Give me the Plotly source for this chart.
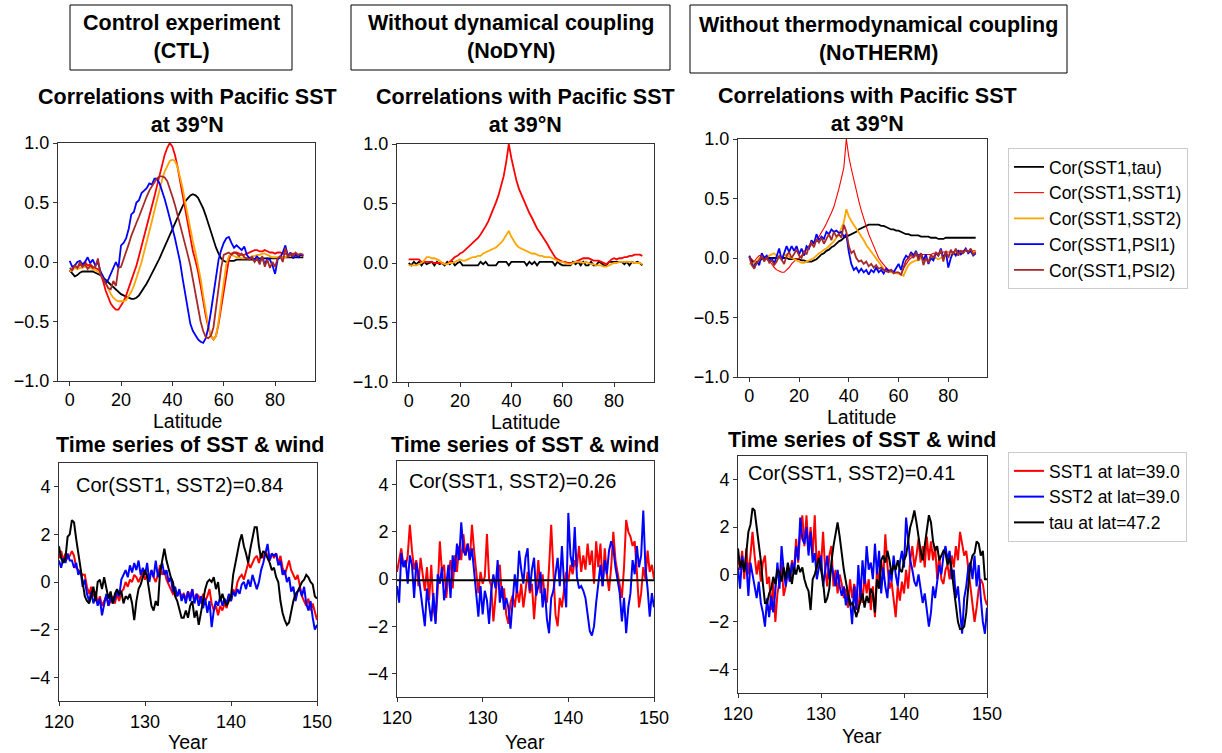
import plotly.graph_objects as go

W, H = 1222, 753
FONT = "Liberation Sans, Arial, Helvetica, sans-serif"

# ---- correlation profiles (latitude 0..91) ----
lat = list(range(92))

ctl_tau = [-0.07,-0.10,-0.12,-0.11,-0.09,-0.08,-0.08,-0.08,-0.08,-0.08,
           -0.09,-0.10,-0.11,-0.13,-0.15,-0.17,-0.19,-0.21,-0.23,-0.25,
           -0.27,-0.28,-0.29,-0.30,-0.31,-0.31,-0.30,-0.28,-0.25,-0.22,
           -0.18,-0.14,-0.10,-0.06,-0.02,0.03,0.08,0.13,0.18,0.23,
           0.28,0.33,0.38,0.43,0.47,0.51,0.54,0.56,0.57,0.56,
           0.54,0.50,0.45,0.39,0.32,0.25,0.18,0.12,0.07,0.03,
           0.01,0.00,0.01,0.01,0.01,0.02,0.02,0.02,0.02,0.02,
           0.02,0.02,0.02,0.03,0.03,0.03,0.03,0.03,0.03,0.03,
           0.03,0.03,0.04,0.04,0.04,0.04,0.04,0.04,0.04,0.04,
           0.04,0.04]
ctl_sst1 = [-0.08,-0.06,-0.03,-0.05,-0.02,-0.04,0.00,-0.03,-0.02,-0.04,
            -0.05,-0.06,-0.10,-0.16,-0.24,-0.30,-0.35,-0.38,-0.40,-0.40,
            -0.37,-0.33,-0.28,-0.22,-0.16,-0.10,-0.03,0.05,0.13,0.21,
            0.29,0.38,0.46,0.55,0.64,0.73,0.82,0.90,0.96,1.00,
            0.97,0.90,0.80,0.68,0.55,0.44,0.32,0.20,0.09,0.01,
            -0.08,-0.20,-0.33,-0.45,-0.55,-0.62,-0.65,-0.62,-0.52,-0.38,
            -0.22,-0.08,0.02,0.07,0.08,0.08,0.07,0.06,0.06,0.07,
            0.08,0.09,0.10,0.10,0.09,0.09,0.10,0.09,0.08,0.08,
            0.07,0.08,0.08,0.07,0.07,0.06,0.06,0.07,0.07,0.06,
            0.06,0.06]
ctl_sst2 = [-0.08,-0.07,-0.05,-0.06,-0.05,-0.05,-0.04,-0.05,-0.05,-0.06,
            -0.07,-0.08,-0.10,-0.13,-0.17,-0.22,-0.27,-0.30,-0.32,-0.33,
            -0.33,-0.33,-0.32,-0.29,-0.25,-0.20,-0.14,-0.07,0.00,0.08,
            0.16,0.25,0.34,0.43,0.52,0.61,0.69,0.76,0.81,0.85,
            0.86,0.85,0.80,0.72,0.62,0.50,0.38,0.27,0.17,0.08,
            -0.02,-0.14,-0.28,-0.42,-0.54,-0.62,-0.65,-0.62,-0.50,-0.33,
            -0.15,-0.02,0.05,0.06,0.05,0.04,0.04,0.03,0.03,0.03,
            0.04,0.05,0.05,0.06,0.06,0.07,0.07,0.06,0.05,0.04,
            0.04,0.04,0.04,0.04,0.04,0.05,0.05,0.05,0.05,0.05,
            0.05,0.05]
ctl_psi1 = [0.01,-0.04,-0.03,0.00,0.01,-0.02,0.00,0.04,-0.01,0.02,
            -0.03,0.00,-0.08,-0.12,-0.18,-0.15,-0.10,-0.05,0.00,-0.05,
            0.14,0.16,0.20,0.28,0.40,0.42,0.50,0.52,0.58,0.60,
            0.62,0.66,0.65,0.70,0.70,0.66,0.60,0.53,0.45,0.37,
            0.30,0.20,0.10,0.00,-0.14,-0.28,-0.42,-0.52,-0.58,-0.62,
            -0.65,-0.67,-0.68,-0.64,-0.55,-0.42,-0.28,-0.12,0.02,0.10,
            0.16,0.20,0.21,0.16,0.12,0.14,0.12,0.10,0.13,0.06,
            0.03,0.04,0.02,0.05,0.00,0.04,-0.02,0.03,0.02,-0.03,
            -0.10,0.02,0.04,0.08,0.14,0.05,0.08,0.03,0.06,0.04,
            0.06,0.05]
ctl_psi2 = [-0.05,-0.07,-0.03,-0.05,0.00,-0.04,-0.02,-0.06,-0.03,-0.05,
            -0.04,0.03,-0.10,-0.14,-0.18,-0.22,-0.23,-0.16,-0.20,-0.05,
            -0.04,0.02,0.08,0.15,0.22,0.28,0.33,0.38,0.44,0.50,
            0.55,0.60,0.64,0.67,0.70,0.72,0.72,0.71,0.68,0.62,
            0.55,0.48,0.40,0.32,0.24,0.15,0.06,-0.03,-0.15,-0.28,
            -0.40,-0.50,-0.58,-0.63,-0.64,-0.62,-0.55,-0.40,-0.22,-0.05,
            0.06,0.07,0.08,0.06,0.08,0.07,0.05,0.07,0.04,0.03,
            0.02,0.04,0.00,0.03,-0.02,0.05,-0.04,0.02,-0.05,0.00,
            -0.04,0.03,0.05,0.00,0.12,0.04,0.07,0.05,0.08,0.06,
            0.07,0.06]

nodyn_tau = [0.00,-0.02,0.01,-0.01,0.01,-0.02,0.01,-0.01,0.00,0.01,
             -0.02,0.01,-0.01,0.00,-0.02,0.01,-0.01,0.01,-0.02,0.00,
             0.01,-0.02,-0.02,-0.02,-0.02,-0.02,-0.02,-0.02,0.01,-0.01,
             0.01,-0.02,-0.02,-0.02,-0.02,0.01,0.01,0.01,0.01,-0.02,
             0.01,0.01,0.01,0.01,0.01,0.01,-0.02,0.01,-0.01,0.01,
             -0.02,0.01,0.01,0.01,0.01,0.01,0.01,-0.02,0.01,-0.01,
             -0.02,-0.02,-0.02,-0.02,0.01,-0.01,0.01,-0.02,0.01,-0.02,
             -0.02,0.01,-0.02,-0.02,0.01,0.00,-0.02,-0.02,0.01,0.01,
             0.01,0.01,0.01,0.01,-0.01,0.01,-0.02,0.01,0.00,0.01,
             0.00,-0.02]
nodyn_sst1 = [0.03,0.03,0.03,0.03,0.03,0.01,0.01,0.01,0.01,0.01,
              0.00,0.00,0.00,0.00,-0.01,-0.01,0.01,0.03,0.05,0.06,
              0.08,0.09,0.11,0.13,0.15,0.17,0.19,0.21,0.24,0.27,
              0.31,0.35,0.40,0.45,0.51,0.57,0.64,0.73,0.85,1.00,
              0.88,0.77,0.69,0.62,0.57,0.51,0.46,0.42,0.38,0.33,
              0.29,0.26,0.23,0.20,0.16,0.12,0.08,0.05,0.03,0.02,
              0.01,0.01,0.00,0.00,0.00,0.01,0.02,0.03,0.04,0.04,
              0.04,0.03,0.02,0.02,0.02,0.01,0.00,-0.01,0.01,0.03,
              0.04,0.03,0.04,0.04,0.05,0.05,0.06,0.06,0.07,0.07,
              0.07,0.06]
nodyn_sst2 = [-0.02,-0.02,-0.02,-0.02,-0.01,0.00,0.02,0.05,0.05,0.04,
              0.04,0.03,0.02,0.00,-0.01,-0.01,0.00,0.00,0.01,0.02,
              0.03,0.02,0.02,0.03,0.04,0.05,0.05,0.06,0.06,0.08,
              0.09,0.10,0.11,0.12,0.13,0.15,0.17,0.20,0.23,0.27,
              0.22,0.18,0.15,0.13,0.12,0.11,0.10,0.09,0.08,0.08,
              0.07,0.06,0.06,0.05,0.05,0.05,0.04,0.03,0.02,0.01,
              0.01,0.00,-0.01,-0.01,0.00,0.01,0.01,0.01,0.00,0.01,
              0.00,-0.01,-0.01,-0.02,-0.02,-0.02,-0.03,-0.03,-0.02,-0.01,
              0.00,0.00,0.01,0.01,0.01,0.01,0.01,0.01,0.00,0.00,
              0.00,-0.01]

notherm_tau = [0.01,-0.02,-0.05,-0.04,-0.02,-0.01,0.00,0.00,0.00,0.00,
               0.00,0.00,0.00,0.00,0.00,0.00,-0.01,-0.01,-0.01,-0.01,
               -0.01,-0.02,-0.02,-0.03,-0.03,-0.03,-0.02,-0.01,0.01,0.03,
               0.04,0.06,0.07,0.09,0.10,0.12,0.14,0.15,0.17,0.18,
               0.19,0.20,0.21,0.22,0.24,0.25,0.26,0.27,0.28,0.28,
               0.28,0.28,0.28,0.27,0.27,0.26,0.25,0.24,0.24,0.23,
               0.23,0.22,0.21,0.20,0.20,0.19,0.19,0.19,0.19,0.18,
               0.18,0.18,0.18,0.17,0.17,0.17,0.16,0.16,0.16,0.17,
               0.17,0.17,0.17,0.17,0.17,0.17,0.17,0.17,0.17,0.17,
               0.17,0.17]
notherm_sst1 = [0.01,-0.01,-0.03,0.00,0.02,0.02,0.00,-0.01,-0.03,-0.05,
                -0.08,-0.10,-0.11,-0.12,-0.12,-0.10,-0.08,-0.05,-0.03,-0.01,
                0.00,0.02,0.05,0.07,0.09,0.11,0.13,0.15,0.18,0.21,
                0.25,0.29,0.33,0.38,0.43,0.50,0.58,0.67,0.76,1.00,
                0.85,0.75,0.65,0.56,0.48,0.40,0.33,0.26,0.20,0.15,
                0.10,0.05,0.00,-0.03,-0.06,-0.08,-0.10,-0.11,-0.12,-0.12,
                -0.13,-0.14,-0.09,-0.05,-0.02,0.00,0.01,0.02,0.03,0.03,
                0.03,0.03,0.03,0.03,0.04,0.04,0.04,0.04,0.05,0.05,
                0.05,0.05,0.05,0.06,0.06,0.06,0.06,0.06,0.06,0.06,
                0.06,0.06]
notherm_sst2 = [-0.05,-0.05,-0.04,-0.03,0.00,0.02,0.01,0.00,0.02,0.03,
                0.04,0.02,0.00,0.01,0.02,0.03,0.01,0.00,-0.01,-0.02,
                -0.03,-0.04,-0.04,-0.03,-0.02,-0.01,0.00,0.02,0.04,0.05,
                0.07,0.08,0.10,0.12,0.14,0.17,0.20,0.25,0.30,0.41,
                0.35,0.31,0.28,0.25,0.22,0.18,0.15,0.11,0.08,0.05,
                0.02,-0.01,-0.04,-0.07,-0.09,-0.10,-0.11,-0.12,-0.12,-0.13,
                -0.13,-0.14,-0.15,-0.10,-0.06,-0.04,-0.03,-0.02,-0.02,0.00,
                0.00,-0.01,-0.02,-0.01,0.00,0.00,-0.01,0.00,0.01,0.02,
                0.02,0.03,0.03,0.04,0.04,0.05,0.05,0.06,0.06,0.06,
                0.05,0.05]
notherm_psi1 = [0.02,-0.05,-0.08,-0.03,-0.06,0.04,0.00,0.02,-0.03,0.00,
                -0.05,0.02,0.08,-0.02,0.05,0.10,0.05,0.10,0.06,0.10,
                0.03,0.08,0.02,0.10,0.08,0.15,0.12,0.20,0.15,0.18,
                0.16,0.22,0.20,0.24,0.22,0.23,0.21,0.22,0.18,0.20,
                0.05,-0.05,-0.10,-0.08,-0.12,-0.09,-0.12,-0.10,-0.14,-0.10,
                -0.12,-0.08,-0.12,-0.10,-0.13,-0.09,-0.11,-0.10,-0.12,-0.08,
                -0.05,-0.10,-0.02,0.02,0.00,0.05,0.02,0.06,0.00,0.04,
                -0.02,0.03,-0.05,0.00,-0.02,0.04,0.02,0.08,0.00,0.05,
                -0.08,0.00,0.05,0.02,0.06,0.03,0.05,0.08,0.04,0.06,
                0.02,0.04]
notherm_psi2 = [0.01,-0.06,-0.09,-0.04,-0.02,0.02,-0.03,0.01,-0.04,-0.02,
                -0.06,-0.03,0.02,-0.02,-0.05,0.02,0.05,0.00,0.04,0.07,
                0.02,0.00,0.06,0.03,0.10,0.13,0.09,0.16,0.13,0.17,
                0.12,0.16,0.20,0.15,0.22,0.18,0.20,0.17,0.28,0.22,
                0.10,0.04,0.06,0.00,-0.03,-0.02,-0.05,-0.03,-0.07,-0.05,
                -0.08,-0.06,-0.09,-0.08,-0.10,-0.11,-0.12,-0.10,-0.13,-0.12,
                -0.12,-0.14,-0.08,-0.02,0.00,0.03,0.00,0.05,-0.02,0.04,
                -0.06,0.00,-0.04,0.03,0.00,0.05,0.02,0.07,-0.03,0.06,
                0.00,0.07,0.03,0.08,0.02,0.06,0.04,0.07,0.05,0.08,
                0.03,0.05]

# ---- time series (years 120..150, quarter-year samples) ----
year = [120 + 0.25 * i for i in range(121)]

ctl_ts_sst1 = [1.0,1.3,0.9,1.2,1.0,1.1,1.3,1.1,
               0.6,0.5,0.4,0.3,0.3,-0.2,-0.5,-0.2,
               -0.6,-0.4,-0.9,-0.6,-1.0,-0.8,-0.6,-1.0,
               -0.8,-0.6,-0.9,-0.5,-0.8,-0.4,-0.3,0.0,
               -0.2,0.1,0.0,0.3,0.2,0.0,0.2,0.4,
               0.1,0.3,0.2,0.5,0.2,0.0,0.3,0.7,
               0.3,0.5,0.1,-0.1,-0.3,-0.5,-0.4,-0.6,
               -0.4,-0.6,-0.5,-0.7,-0.4,-0.6,-0.3,-0.8,
               -0.5,-0.6,-0.9,-0.5,-0.8,-0.6,-0.3,-0.9,
               -1.2,-1.0,-1.4,-1.0,-1.2,-0.9,-1.1,-0.6,
               -0.8,-0.3,-0.5,0.0,0.2,0.3,0.1,0.5,
               0.8,0.6,0.8,1.0,1.1,0.8,1.2,1.0,
               1.3,1.1,0.9,1.2,1.0,1.2,0.8,1.1,
               0.6,0.3,0.6,0.9,0.5,0.3,0.1,0.3,
               -0.2,-0.6,-0.8,-1.0,-0.7,-1.2,-0.9,-1.3,
               -1.6]
ctl_ts_sst2 = [0.9,0.6,1.0,0.8,1.2,0.9,0.9,0.6,
               0.8,0.3,0.5,-0.2,0.1,-0.5,-0.8,-0.4,
               -0.9,-0.6,-1.0,-0.7,-1.4,-0.9,-0.5,-1.0,
               -0.6,-0.9,-0.7,-0.4,-0.6,0.1,0.3,0.5,
               0.2,0.7,0.4,0.8,0.5,0.9,0.3,0.6,
               0.3,0.8,0.0,0.5,0.2,0.9,0.2,0.5,
               0.8,0.3,0.5,0.0,0.2,-0.4,-0.2,-0.6,
               -0.3,-0.8,-0.5,-0.9,-0.4,-0.8,-0.3,-0.9,
               -0.5,-1.0,-0.6,-1.1,-0.7,-1.3,-0.8,-1.9,
               -1.2,-0.8,-1.0,-0.6,-1.0,-0.7,-0.9,-0.5,
               -0.8,-0.4,-0.6,-0.3,-0.5,-0.1,0.0,-0.3,
               0.1,-0.2,0.3,0.0,-0.3,0.0,0.5,0.8,
               1.2,1.6,0.9,1.2,1.1,1.2,0.7,0.9,
               0.3,0.5,0.0,0.2,-0.4,-0.2,-0.8,-0.4,
               -0.3,-0.6,-0.2,-0.9,-1.2,-0.8,-1.5,-2.0,
               -1.8]
ctl_ts_tau = [1.5,1.0,0.8,1.0,1.9,2.0,2.6,2.5,
              1.8,1.2,0.8,0.2,-0.6,-0.8,-0.9,-0.6,
              -0.2,-0.8,0.0,0.1,-0.3,0.2,-0.2,-0.7,
              -0.4,-0.9,-0.5,-0.3,-0.5,-0.4,-0.9,-0.6,
              -0.7,-0.5,-0.9,-1.6,-0.8,-0.3,-0.1,0.2,
              0.5,0.2,-0.5,-1.0,-1.2,-0.8,-1.0,0.4,
              0.9,1.4,0.9,0.5,0.2,0.0,-0.6,-0.8,
              -1.2,-1.5,-1.5,-1.2,-1.5,-1.0,-0.8,-1.5,
              -1.2,-1.8,-1.3,-0.8,-0.3,0.0,0.1,0.0,
              0.2,-0.3,0.0,-0.8,-0.5,-0.8,-1.0,-0.8,
              -0.6,0.3,0.8,1.2,1.7,2.0,1.5,1.2,
              0.8,1.4,1.8,2.3,2.3,1.5,1.0,1.3,
              1.2,1.0,0.8,0.5,0.6,0.2,0.0,-0.8,
              -1.3,-1.6,-1.8,-1.7,-1.2,-0.8,-0.5,-0.4,
              -0.2,0.0,0.1,0.3,0.2,0.0,-0.1,-0.6,
              -0.7]

nodyn_ts_sst1 = [0.3,0.8,1.3,0.6,0.5,1.0,2.3,1.2,
                 0.4,0.8,-0.3,0.9,0.3,-0.5,0.5,-0.9,
                 0.6,-1.2,-1.8,-0.5,1.6,0.3,0.6,-0.8,
                 0.2,0.8,-0.4,1.0,0.3,1.4,0.8,1.9,
                 1.0,1.5,0.8,2.3,1.2,0.3,-0.6,0.3,
                 -0.2,0.1,1.9,0.0,-0.3,-1.8,-0.6,0.3,
                 0.6,-0.8,-0.4,-1.5,-1.9,-1.0,-0.7,-1.2,
                 -0.4,-1.0,-0.2,-1.2,-0.5,0.3,-0.6,-0.2,
                 -1.7,-0.4,0.8,-0.6,0.2,-0.8,-1.0,0.5,
                 2.3,0.4,-1.5,-2.0,-0.8,-1.2,-0.4,0.3,
                 -0.1,0.6,0.2,0.8,0.5,1.4,0.3,1.0,
                 0.4,1.5,0.6,1.2,-0.2,1.6,0.5,1.5,
                 -0.3,1.3,0.2,-0.5,0.5,2.0,0.8,0.2,
                 -0.3,-0.8,0.5,2.5,2.0,1.8,1.4,1.6,
                 0.3,-1.2,-0.6,0.5,0.0,1.2,0.3,0.6,
                 0.0]
nodyn_ts_sst2 = [-0.3,-1.0,1.1,0.5,0.8,-0.2,1.0,0.6,
                 -0.8,0.7,0.2,-0.5,-1.4,-2.0,-0.4,-1.2,
                 -1.8,-0.6,-1.9,0.2,-0.2,0.5,-0.9,-0.3,
                 0.6,-0.8,1.0,0.3,1.5,0.8,2.4,1.2,
                 1.0,1.5,0.8,1.3,0.4,-0.5,-1.6,-0.3,
                 -1.5,-0.5,-0.9,-1.9,-0.5,0.2,-0.4,0.8,
                 -1.0,-0.3,-1.3,-0.8,-1.2,-2.1,-0.8,0.2,
                 -0.6,1.2,0.4,-0.2,0.9,1.3,-0.5,0.4,
                 0.9,-0.7,-0.3,0.3,-1.2,-0.4,-1.7,-2.3,
                 -0.8,-0.5,0.2,0.9,-0.3,1.4,-0.2,-1.2,
                 2.8,1.0,0.5,2.2,0.1,-0.4,-0.3,-0.5,
                 -0.8,-1.5,-2.2,-2.4,-2.0,-1.0,-0.2,0.6,
                 -0.3,0.8,0.2,1.2,1.6,1.3,0.5,0.0,
                 -0.6,-1.8,-0.8,-2.3,-1.2,-0.6,0.8,0.2,
                 1.4,0.5,1.0,2.9,0.5,-0.4,-1.6,-0.6,
                 -1.2]
nodyn_ts_year_tau = [120, 150]
nodyn_ts_tau = [-0.05, -0.05]

notherm_ts_sst1 = [0.7,0.2,1.0,-0.2,1.1,0.0,0.8,1.8,
                   0.8,0.0,0.6,-0.3,0.5,0.8,-0.4,-0.1,
                   -1.5,-0.3,-2.0,-0.8,-0.3,0.5,-0.9,-0.5,
                   0.2,-0.3,0.6,0.1,1.5,0.5,1.8,2.5,
                   1.2,2.5,1.0,2.0,0.8,2.5,0.2,1.0,
                   0.3,1.8,0.2,-0.5,0.8,1.2,-0.5,0.2,
                   -0.8,0.0,-0.4,-1.0,-0.6,-1.4,-0.2,-1.0,
                   -0.4,-0.8,-1.6,-0.3,-1.2,0.0,-0.8,-0.2,
                   -1.5,-0.5,-1.8,0.3,-0.4,0.6,-0.2,1.7,
                   0.4,-0.6,-0.3,-1.0,-1.8,-0.5,-1.1,-0.3,
                   -0.8,0.2,-0.6,0.6,1.2,0.3,0.8,1.5,
                   0.5,1.2,0.3,1.6,0.6,1.4,0.6,1.2,
                   -0.2,0.8,-0.2,-0.4,0.2,0.4,-0.2,0.8,
                   0.3,1.2,0.6,1.8,1.2,0.8,1.0,0.3,
                   -0.6,-1.2,-2.0,-1.4,-0.6,-0.2,-0.4,-1.0,
                   -1.3]
notherm_ts_sst2 = [0.3,-0.6,0.8,0.2,0.5,-0.9,0.5,0.0,
                   -0.5,-1.0,-0.3,-1.2,-1.6,-2.2,-1.0,-1.8,
                   -0.9,-1.6,-0.7,0.5,-0.6,1.2,0.2,-0.5,
                   0.2,-0.3,0.5,0.0,1.2,0.6,2.4,1.5,
                   1.3,2.0,0.8,1.8,0.5,0.9,-0.2,0.3,
                   0.8,-0.5,0.2,0.8,-0.2,0.4,0.0,-0.5,
                   0.2,-0.5,-0.9,-0.5,-1.3,-0.8,-1.1,-2.1,
                   -0.5,-1.5,0.4,-1.0,0.6,-0.4,1.2,0.2,
                   0.5,-0.2,1.3,0.0,1.0,-0.8,0.3,-0.5,
                   -1.0,0.2,-0.3,0.8,0.0,-0.5,0.5,1.0,
                   0.3,2.4,1.5,0.6,0.2,-0.3,-0.5,0.0,
                   -0.6,-1.2,-0.8,-1.5,-2.2,-1.6,-0.5,-1.0,
                   -0.2,0.4,0.0,0.8,1.2,0.6,1.0,-0.2,
                   0.2,-1.0,-0.5,-1.4,-2.5,-1.0,-0.5,0.3,
                   0.5,-0.2,0.8,-0.5,0.4,-1.0,-2.0,-2.5,
                   -1.4]
notherm_ts_tau = [1.1,0.3,0.6,0.1,0.9,1.8,2.1,2.8,
                  2.7,2.0,1.4,0.6,-0.4,-1.2,-1.2,-0.8,
                  -0.6,-0.1,-0.4,0.2,0.1,-0.3,0.3,-0.2,
                  0.5,0.1,-0.4,0.3,0.0,0.4,0.1,0.3,
                  -0.2,-0.5,-0.7,-1.5,-0.2,0.0,0.4,0.7,
                  0.2,-0.3,-1.2,-1.0,-0.6,0.5,1.2,1.8,
                  2.2,1.6,0.8,0.2,-0.3,-0.8,-1.3,-1.2,
                  -1.4,-1.8,-1.5,-1.2,-0.8,-1.4,-0.9,-1.2,
                  -0.6,-0.8,-1.6,-0.2,-0.6,0.6,0.8,0.5,
                  1.0,0.6,0.0,0.4,0.2,0.6,0.2,0.1,
                  0.6,0.8,1.5,2.0,2.3,2.7,2.2,1.5,
                  1.0,0.6,1.2,1.8,2.5,2.2,1.4,1.0,
                  1.2,0.6,0.8,1.0,0.9,0.4,0.7,0.2,
                  -0.6,-1.2,-2.0,-2.3,-2.3,-2.2,-1.6,-0.5,
                  0.4,0.8,0.9,1.4,1.3,0.8,1.0,-0.2,
                  -0.2]

headers = ["Control experiment<br>(CTL)",
           "Without dynamical coupling<br>(NoDYN)",
           "Without thermodynamical coupling<br>(NoTHERM)"]
cor_labels = ["Cor(SST1, SST2)=0.84", "Cor(SST1, SST2)=0.26", "Cor(SST1, SST2)=0.41"]
cor_names = ["Cor(SST1,tau)", "Cor(SST1,SST1)", "Cor(SST1,SST2)", "Cor(SST1,PSI1)", "Cor(SST1,PSI2)"]
ts_names = ["SST1 at lat=39.0", "SST2 at lat=39.0", "tau at lat=47.2"]


def px(x):
    return x / W


def py(y):
    return 1 - y / H


# panel boxes in pixels: left, right, top, bottom
boxes = {
    1: (58, 315, 143, 381), 2: (397, 654, 144, 382), 3: (738, 987, 139, 377),
    4: (59, 317, 463, 701), 5: (397, 654, 461, 697), 6: (738, 987, 456, 693),
}

fig = go.Figure()


def line(i, x, y, color, name, width=1.8, legend=None):
    fig.add_trace(go.Scatter(
        x=x, y=y, mode="lines", name=name,
        line=dict(color=color, width=width),
        xaxis=f"x{i}", yaxis=f"y{i}",
        showlegend=legend is not None, legend=legend or "legend",
    ))


cols = ["black", "red", "orange", "blue", "brown"]
line(1, lat, ctl_tau, cols[0], cor_names[0])
line(1, lat, ctl_sst1, cols[1], cor_names[1])
line(1, lat, ctl_sst2, cols[2], cor_names[2])
line(1, lat, ctl_psi1, cols[3], cor_names[3])
line(1, lat, ctl_psi2, cols[4], cor_names[4])

line(2, lat, nodyn_tau, cols[0], cor_names[0])
line(2, lat, nodyn_sst1, cols[1], cor_names[1])
line(2, lat, nodyn_sst2, cols[2], cor_names[2])

line(3, lat, notherm_tau, cols[0], cor_names[0], legend="legend")
line(3, lat, notherm_sst1, cols[1], cor_names[1], width=1.1, legend="legend")
line(3, lat, notherm_sst2, cols[2], cor_names[2], legend="legend")
line(3, lat, notherm_psi1, cols[3], cor_names[3], legend="legend")
line(3, lat, notherm_psi2, cols[4], cor_names[4], legend="legend")

line(4, year, ctl_ts_sst1, "red", ts_names[0], width=2)
line(4, year, ctl_ts_sst2, "blue", ts_names[1], width=2)
line(4, year, ctl_ts_tau, "black", ts_names[2], width=2)

line(5, year, nodyn_ts_sst1, "red", ts_names[0], width=2)
line(5, year, nodyn_ts_sst2, "blue", ts_names[1], width=2)
line(5, nodyn_ts_year_tau, nodyn_ts_tau, "black", ts_names[2], width=2)

line(6, year, notherm_ts_sst1, "red", ts_names[0], width=2, legend="legend2")
line(6, year, notherm_ts_sst2, "blue", ts_names[1], width=2, legend="legend2")
line(6, year, notherm_ts_tau, "black", ts_names[2], width=2, legend="legend2")

axis_common = dict(showline=True, mirror=True, linecolor="#333", linewidth=1,
                   ticks="outside", ticklen=4, tickwidth=1, tickcolor="#333",
                   showgrid=False, zeroline=False, automargin=False,
                   tickfont=dict(size=18, color="black", family=FONT))

layout = {}
for i, (l, r, t, b) in boxes.items():
    k = "" if i == 1 else str(i)
    if i <= 3:
        xa = dict(range=[-4.55, 95.55], tickvals=[0, 20, 40, 60, 80], ticklabelstandoff=-2)
        ya = dict(range=[-1, 1], tickvals=[-1, -0.5, 0, 0.5, 1], tickformat=".1f")
    else:
        xa = dict(range=[120, 150], tickvals=[120, 130, 140, 150])
        ya = dict(range=[-5, 5], tickvals=[-4, -2, 0, 2, 4])
    layout["xaxis" + k] = dict(domain=[px(l), px(r)], anchor=f"y{i}", **xa, **axis_common)
    layout["yaxis" + k] = dict(domain=[py(b), py(t)], anchor=f"x{i}", **ya, **axis_common)

annotations = []


def text(x, y, s, size, bold=False, xanchor="center", yanchor="middle"):
    annotations.append(dict(
        x=px(x), y=py(y), xref="paper", yref="paper", showarrow=False,
        text=f"<b>{s}</b>" if bold else s, xanchor=xanchor, yanchor=yanchor,
        borderpad=0,
        font=dict(size=size, color="black", family=FONT),
    ))


# column headers in boxes
header_boxes = [(70, 292, 5, 70), (351, 670, 5, 70), (690, 1067, 5, 73)]
shapes = []
for (l, r, t, b), s in zip(header_boxes, headers):
    shapes.append(dict(type="rect", xref="paper", yref="paper",
                       x0=px(l), x1=px(r), y0=py(b), y1=py(t),
                       line=dict(color="black", width=1)))
    text((l + r) / 2, (t + b) / 2, s, 21.5, bold=True)

# panel titles
title_top = "Correlations with Pacific SST<br>at 39°N"
text(187, 111, title_top, 21.5, bold=True)
text(525, 111, title_top, 21.5, bold=True)
text(867, 110, title_top, 21.5, bold=True)
text(190, 445, "Time series of SST & wind", 21.5, bold=True)
text(525, 445, "Time series of SST & wind", 21.5, bold=True)
text(862, 440, "Time series of SST & wind", 21.5, bold=True)

# axis titles
text(187, 421, "Latitude", 19.5)
text(525, 422, "Latitude", 19.5)
text(862, 417, "Latitude", 19.5)
text(188, 742, "Year", 19.5)
text(525, 742, "Year", 19.5)
text(862, 736, "Year", 19.5)

# correlation labels
text(75, 485, cor_labels[0], 20, xanchor="left")
text(408, 481, cor_labels[1], 20, xanchor="left")
text(747, 473, cor_labels[2], 20, xanchor="left")

legend_style = dict(xanchor="left", yanchor="top", bgcolor="white",
                    bordercolor="#cccccc", borderwidth=1,
                    font=dict(size=17.5, color="black", family=FONT))

fig.update_layout(
    width=W, height=H,
    margin=dict(l=0, r=0, t=0, b=0, autoexpand=False),
    paper_bgcolor="white", plot_bgcolor="white",
    font=dict(family=FONT, color="black"),
    annotations=annotations, shapes=shapes,
    legend=dict(x=px(1008), y=py(148), **legend_style),
    legend2=dict(x=px(1008), y=py(452), **legend_style),
    **layout,
)

fig.write_html(
    "out.html",
    config={"displayModeBar": False},
    post_script="document.body.style.margin='0';document.body.style.overflow='hidden';",
)
